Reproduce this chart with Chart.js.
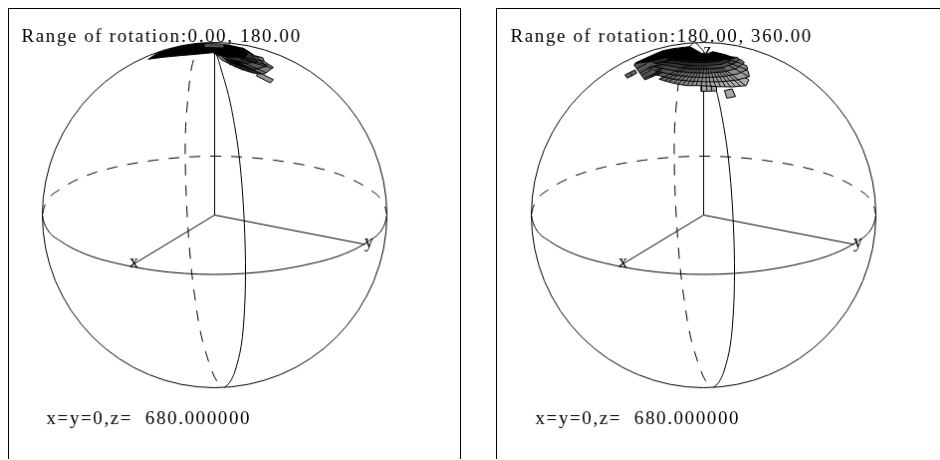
<!DOCTYPE html>
<html>
<head>
<meta charset="utf-8">
<script src="https://cdn.jsdelivr.net/npm/chart.js@4"></script>
<style>
  html, body { margin: 0; width: 940px; height: 460px; overflow: hidden; background: #fff; }
  canvas { position: absolute; top: 8px; border: 1px solid #000; border-bottom: none; }
  #leftPanel { left: 8px; }
  #rightPanel { left: 496px; }
</style>
</head>
<body>
<canvas id="leftPanel" width="453" height="451"></canvas>
<canvas id="rightPanel" width="453" height="451"></canvas>
<script>
// all curves below are in plot units, origin at the sphere centre, y up
const sphereCentre = [[0, 0]];
const xAxisLine = [[0, 0], [-84.5, -51]];
const yAxisLine = [[0, 0], [151.7, -29.5]];
const zAxisLine = [[0, 0], [0, 163]];
const equatorFront = [[-173, 0], [-172, -5], [-168, -14.5], [-155, -26], [-130, -39], [-100, -48], [-60, -55.5], [-30, -58.5], [0, -59.5], [30, -58.5], [60, -55.5], [100, -48], [130, -39], [155, -26], [168, -14.5], [172, -5], [173, 0]];
const equatorBack = [[-173, 0], [-172, 5], [-168, 14.5], [-155, 26], [-130, 39], [-100, 48], [-60, 55], [-30, 58], [0, 59], [30, 58], [60, 55], [100, 48], [130, 39], [155, 26], [168, 14.5], [172, 5], [173, 0]];
const meridianFront = [[-8, 172.8], [1, 162.5], [6.7, 145.5], [14, 120], [20, 90], [24.5, 60], [28, 22.5], [30.3, -20], [31, -57.5], [30, -95], [26.7, -131], [20.3, -157], [15, -168], [10, -172.8]];
const meridianBack = [[-10, 172.8], [-17, 165], [-23, 148.5], [-27, 115], [-29.3, 82.5], [-29.3, 45.5], [-27.7, 2.5], [-24.3, -44.5], [-20, -81.2], [-13.3, -121.2], [-3.3, -154.5], [3, -167.5], [10, -172.8]];

// left panel histogram, rotation 0..180
const leftTip = [[44, 143], [59, 135.8], [56, 132.5], [42, 139.5]];
const leftBands = [
  [[28.3, 167.2], [35, 163.2], [40, 159.8], [48.3, 157.8], [50, 153.8], [59, 148], [50, 141.5], [38.3, 142.5], [26.7, 146.5], [15, 151.5], [6.7, 155.8], [1.7, 161.5]],
  [[28.3, 167.2], [35, 163.2], [40, 159.8], [45, 156.5], [52, 149], [40, 146], [27, 149.5], [12, 155], [5, 161]],
  [[28.3, 167.2], [35, 163.2], [38, 160], [43, 153.5], [30, 152], [14, 157], [5, 162]]
];
const leftCore = [[-66.7, 156.2], [-56.7, 162.8], [-41.7, 167.2], [-26.7, 170.5], [-13.3, 172.2], [5, 171.5], [15, 170.2], [28.3, 167.2], [35, 163.2], [30, 158], [14, 158.5], [3.3, 160.5], [-1.7, 162.8], [-18.3, 161.2], [-35, 159.8], [-51.7, 158.2]];
const leftStipple = [[-10, 171.5], [9, 171], [9, 168], [-10, 168.5]];
const leftSpokes = [
  [[50, 154], [23, 159.5]], [[54, 150], [25, 158]], [[58, 147], [26, 156.5]], [[52, 142.5], [24, 155]],
  [[46, 141], [21.5, 154.2]], [[40, 142], [19, 154.6]], [[34, 143.5], [16.6, 155.2]], [[28, 145], [14.2, 155.8]],
  [[22, 147.5], [11.8, 156.8]], [[16, 150], [9.4, 157.8]], [[47, 142], [22, 154]], [[43, 141.8], [20, 154.4]],
  [[37, 143], [18, 155]], [[31, 144.5], [15, 155.5]], [[25, 146.5], [13, 156.3]], [[19, 149], [10.5, 157.3]]
];

// right panel histogram, rotation 180..360
const rightTipBar = [[-79, 140.5], [-69, 145.5], [-67.3, 142.2], [-76.7, 137.2]];
const rightBlock = [[-70, 150.5], [-59, 135.5], [-47.3, 140.5], [-20, 155], [-45, 163], [-60, 156]];
const rightLoneBar = [[21, 124.8], [28.7, 126.5], [32, 118.8], [23.3, 117.2]];
const rightRowA = [[-2.3, 130], [-2.3, 124], [13, 124.5], [13, 130]];
const rightRows = [
  [[-44.7, 136.2], [-30.7, 132.2], [-17.3, 129.8], [-2.3, 129.8], [12.7, 128.8], [29.3, 128.5], [42.7, 129.8], [45.5, 135.5]],
  [[-47.3, 140.5], [-30.7, 136.2], [-14, 134.2], [2.7, 133.5], [19.3, 133.8], [34.3, 135.5], [46, 138.8], [44.5, 144.5]],
  [[-49, 144.8], [-30.7, 140.5], [-14, 138.5], [2.7, 137.8], [19.3, 138.8], [34.3, 141.5], [44.3, 146.2], [43, 150]],
  [[-50.7, 148.8], [-30.7, 144.8], [-14, 142.8], [2.7, 142.2], [19.3, 143.5], [32.7, 146.8], [41, 152.8], [38, 155.5]],
  [[-50.7, 152.8], [-30.7, 148.8], [-14, 146.5], [2.7, 146.2], [19.3, 147.8], [31, 152.2], [36, 156.2], [34, 158]],
  [[-44, 153.8], [-30.7, 152.2], [-14, 149.8], [2.7, 149.5], [19.3, 151.5], [27.7, 155.5]],
  [[-37.3, 156.2], [-14, 153.2], [2.7, 152.8], [19.3, 154.8], [24.3, 158.2]]
];
const rightRowGrey = [175, 160, 140, 112, 82, 50, 25];
const rightCore = [[-69, 152.2], [-60.7, 156.2], [-50.7, 160.5], [-40.7, 164.8], [-30.7, 166.8], [-14, 168.8], [-6.7, 164.8], [-2.3, 162.2], [2.7, 161.2], [9.3, 163.8], [22.7, 160.5], [31, 157.2], [15, 155.5], [2.7, 154.5], [-14, 155], [-37, 157.5], [-55, 153.5]];
const rightSpokes = [
  [[-44, 136], [-16, 151]], [[-39, 134.6], [-14, 150.4]], [[-35, 133.4], [-12.4, 150]], [[-30, 132], [-10.4, 149.4]],
  [[-25.5, 131.2], [-8.6, 149.1]], [[-21, 130.4], [-6.8, 148.8]], [[-16.5, 129.8], [-5, 148.5]], [[-12, 129.8], [-3.2, 148.5]],
  [[-7.5, 129.8], [-1.4, 148.5]], [[-2.5, 129.8], [0.6, 148.5]], [[2.5, 129.4], [2.6, 148.4]], [[7, 129.1], [4.4, 148.2]],
  [[12, 128.8], [6.4, 148.1]], [[17, 128.7], [8.4, 148.1]], [[22, 128.6], [10.4, 148]], [[27, 128.5], [12.4, 148]],
  [[32, 128.7], [14.4, 148.1]], [[37, 129.3], [16.4, 148.3]], [[42, 129.8], [18.4, 148.5]], [[45, 139], [25, 150]],
  [[43, 146], [24, 153]], [[38, 152], [23, 156]],
  [[3, 124.5], [3, 130]], [[8, 124.5], [8, 130]], [[-64, 142.5], [-51, 150]], [[-60, 137], [-47, 143]],
  [[-50, 141], [-42, 146]], [[-56, 146], [-46, 151]], [[-73, 142], [-72, 139]],
  [[-67, 147], [-57, 152]], [[-62, 140], [-50, 147]], [[-54, 138], [-44, 144]]
];

const xLabelPos = [-81, -52];
const yLabelPos = [155, -32];
const zLabelPos = [4, 160];
const titlePos = [-194, 173.5];
const notePos = [-169, -209.5];
const noteText = "x=y=0,z=  680.000000";

// line helpers, black outline like the plot frame
function curve(pts, extra) {
  return Object.assign({
    data: pts, showLine: true, borderColor: "#000", borderWidth: 1, pointRadius: 0, fill: false, tension: 0.35, clip: false,
  }, extra);
}

function poly(pts, color) {
  return curve(pts.concat([pts[0]]), { tension: 0, fill: "shape", backgroundColor: color, borderWidth: 1 });
}

function spokeLines(pairs) {
  const flat = [];
  pairs.forEach(function (p) {
    flat.push({ x: p[0][0], y: p[0][1] }, { x: p[1][0], y: p[1][1] }, { x: null, y: null });
  });
  return curve(flat, { tension: 0, borderWidth: 0.9 });
}

function baseSets() {
  return [
    curve(sphereCentre, { showLine: false, pointRadius: 173, pointBorderColor: "#000", pointBorderWidth: 1, pointBackgroundColor: "rgba(0,0,0,0)" }),
    curve(equatorBack, { borderDash: [11, 10], cubicInterpolationMode: "monotone" }),
    curve(equatorFront, { cubicInterpolationMode: "monotone" }),
    curve(meridianBack, { borderDash: [11, 10] }),
    curve(meridianFront),
    curve(zAxisLine, { tension: 0 }),
    curve(xAxisLine, { tension: 0 }),
    curve(yAxisLine, { tension: 0 }),
  ];
}

const labelPlugin = {
  id: "panelText",
  afterDraw(chart, args, opts) {
    const c = chart.ctx, sx = chart.scales.x, sy = chart.scales.y;
    c.save();
    c.fillStyle = "#000";
    c.textBaseline = "alphabetic";
    c.font = "19px 'Liberation Serif'";
    c.letterSpacing = "1.6px";
    c.fillText(opts.title, sx.getPixelForValue(titlePos[0]), sy.getPixelForValue(titlePos[1]));
    c.fillText(noteText, sx.getPixelForValue(notePos[0]), sy.getPixelForValue(notePos[1]));
    c.letterSpacing = "0px";
    c.font = "18px 'Liberation Serif'";
    c.textAlign = "center";
    c.fillText("x", sx.getPixelForValue(xLabelPos[0]), sy.getPixelForValue(xLabelPos[1]));
    c.fillText("y", sx.getPixelForValue(yLabelPos[0]), sy.getPixelForValue(yLabelPos[1]));
    if (opts.showZ) c.fillText("z", sx.getPixelForValue(zLabelPos[0]), sy.getPixelForValue(zLabelPos[1]));
    c.restore();
  },
};

function makePanel(id, xMin, title, showZ, fanSets) {
  // Chart.js paints the first dataset last, so flip the painter's order
  const sets = baseSets().concat(fanSets).reverse();
  return new Chart(document.getElementById(id), {
    type: "scatter",
    data: { datasets: sets },
    options: {
      responsive: false,
      animation: false,
      events: [],
      layout: { padding: 0, autoPadding: false }, // the big sphere point would shrink the plot otherwise
      scales: {
        x: { type: "linear", display: false, min: xMin, max: xMin + 453 },
        y: { type: "linear", display: false, min: -244.5, max: 206.5 },
      },
      plugins: {
        legend: { display: false },
        tooltip: { enabled: false },
        panelText: { title: title, showZ: showZ },
      },
    },
    plugins: [labelPlugin],
  });
}

// left panel
const leftFan = [
  poly(leftTip, "#999"),
  poly(leftBands[0], "#808080"),
  poly(leftBands[1], "#5a5a5a"),
  poly(leftBands[2], "#333"),
  spokeLines(leftSpokes),
  poly(leftCore, "#000"),
  curve(leftStipple.concat([leftStipple[0]]), { tension: 0, fill: "shape", backgroundColor: "#555", borderWidth: 0 }),
];
makePanel("leftPanel", -206.5, "Range of rotation:0.00, 180.00", false, leftFan);

// right panel, rows get darker on the far left side
const rightCtx = document.getElementById("rightPanel").getContext("2d");
function rowFill(g) {
  const grad = rightCtx.createLinearGradient(207.5 - 50, 0, 207.5 + 5, 0);
  const d = Math.round(g * 0.5);
  grad.addColorStop(0, "rgb(" + d + "," + d + "," + d + ")");
  grad.addColorStop(1, "rgb(" + g + "," + g + "," + g + ")");
  return grad;
}
const rightFan = [
  poly(rightLoneBar, "#a8a8a8"),
  poly(rightRowA, "#a8a8a8"),
  poly(rightTipBar, "#666"),
  poly(rightBlock, "#555"),
];
rightRows.forEach(function (row, i) {
  rightFan.push(poly(row.concat([[2.7, 161]]), rowFill(rightRowGrey[i])));
});
rightFan.push(spokeLines(rightSpokes));
rightFan.push(poly(rightCore, "#000"));
makePanel("rightPanel", -207.5, "Range of rotation:180.00, 360.00", true, rightFan);
</script>
</body>
</html>
